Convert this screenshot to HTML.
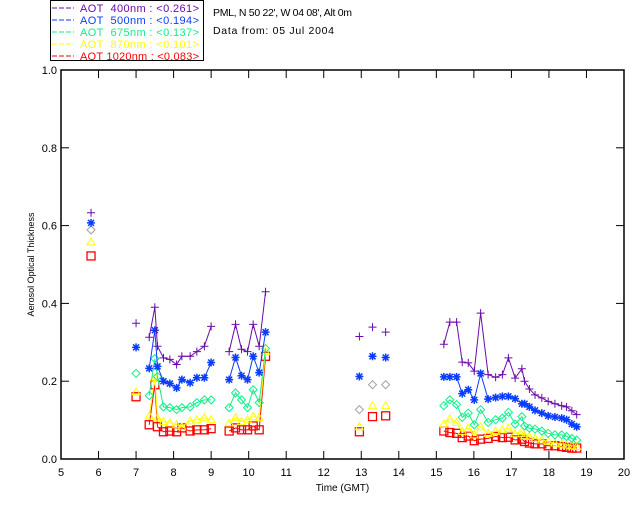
<!DOCTYPE html>
<html><head><meta charset="utf-8">
<style>
html,body{margin:0;padding:0;background:#fff;}
svg{display:block;font-family:"Liberation Sans",sans-serif;}
text{white-space:pre;}
</style></head>
<body>
<svg id="chart" width="640" height="512" xmlns="http://www.w3.org/2000/svg"></svg>
<script>
const xTicks=[5,6,7,8,9,10,11,12,13,14,15,16,17,18,19,20];
const yTicks=[0.0,0.2,0.4,0.6,0.8,1.0];
const wavelengths=["400nm","500nm","675nm","870nm","1020nm"];
const means=["0.261","0.194","0.137","0.101","0.083"];
const tIso1=[5.8];
const tIso2=[7.0];
const tB=[7.35,7.5,7.57,7.73,7.9,8.08,8.22,8.44,8.62,8.82,9.0];
const tC=[9.48,9.65,9.81,9.97,10.12,10.28,10.45];
const tIso3=[12.95,13.3,13.65];
const tD=[15.2,15.36,15.54,15.69,15.85,16.01,16.18,16.38,16.58,16.76,16.92,17.1,17.28,17.35,17.48,17.63,17.81,17.98,18.16,18.34,18.47,18.61,18.74];
const iso1=[[0.633],[0.607],[0.589],[0.558],[0.522]];
const iso2=[[0.349],[0.287],[0.22],[0.173],[0.16]];
const a400B=[0.313,0.39,0.29,0.26,0.256,0.243,0.264,0.264,0.276,0.29,0.341];
const a500B=[0.233,0.331,0.238,0.2,0.194,0.183,0.204,0.196,0.209,0.209,0.248];
const a675B=[0.163,0.258,0.212,0.134,0.132,0.127,0.132,0.134,0.145,0.152,0.152];
const a870B=[0.111,0.209,0.106,0.096,0.093,0.088,0.083,0.098,0.101,0.106,0.101];
const a1020B=[0.088,0.191,0.083,0.07,0.072,0.07,0.08,0.072,0.075,0.075,0.078];
const a400C=[0.276,0.346,0.282,0.276,0.346,0.29,0.43];
const a500C=[0.204,0.261,0.214,0.204,0.264,0.222,0.326];
const a675C=[0.132,0.17,0.152,0.132,0.178,0.145,0.284];
const a870C=[0.093,0.106,0.096,0.101,0.109,0.106,0.276];
const a1020C=[0.072,0.08,0.075,0.075,0.085,0.075,0.264];
const iso3=[[0.315,0.339,0.326],[0.212,0.264,0.261],[0.127,0.191,0.191],[0.083,0.137,0.137],[0.07,0.109,0.111]];
const a400D=[0.295,0.352,0.352,0.249,0.247,0.226,0.375,0.217,0.21,0.217,0.26,0.208,0.232,0.2,0.18,0.165,0.157,0.148,0.142,0.137,0.134,0.124,0.114];
const a500D=[0.211,0.211,0.211,0.168,0.178,0.152,0.22,0.154,0.158,0.161,0.161,0.155,0.142,0.142,0.134,0.125,0.118,0.111,0.108,0.105,0.101,0.09,0.083];
const a675D=[0.137,0.152,0.14,0.107,0.118,0.088,0.127,0.094,0.101,0.105,0.12,0.09,0.109,0.085,0.079,0.077,0.072,0.066,0.062,0.062,0.058,0.053,0.049];
const a870D=[0.09,0.103,0.094,0.071,0.079,0.062,0.083,0.066,0.071,0.075,0.079,0.065,0.071,0.059,0.058,0.053,0.049,0.045,0.041,0.039,0.036,0.034,0.032];
const a1020D=[0.072,0.068,0.066,0.055,0.059,0.047,0.051,0.053,0.058,0.055,0.056,0.049,0.051,0.045,0.041,0.039,0.039,0.034,0.034,0.032,0.03,0.028,0.028];

const colors=["#6a0aaa","#0a3cff","#10ee88","#ffff00","#ff0000"];
const markers=["plus","star","diamond","tri","square"];
const X0=61,X1=624,Y0=459,YT=70;
const xs=t=>X0+(t-5)/(20-5)*(X1-X0);
const ys=v=>Y0-v*(Y0-YT);
const svg=document.getElementById('chart');
const NS="http://www.w3.org/2000/svg";
function mk(tag,attrs,parent){const e=document.createElementNS(NS,tag);for(const k in attrs)e.setAttribute(k,attrs[k]);(parent||svg).appendChild(e);return e;}

const frame=mk('rect',{x:X0,y:YT,width:X1-X0,height:Y0-YT,fill:'none',stroke:'#000','stroke-width':1.5});


xTicks.forEach(t=>{
  const g=mk('g',{});
  
  
  mk('line',{x1:xs(t),x2:xs(t),y1:Y0,y2:Y0-8,stroke:'#000'},g);
  mk('line',{x1:xs(t),x2:xs(t),y1:YT,y2:YT+8,stroke:'#000'},g);
  const tx=mk('text',{x:xs(t),y:Y0+17,'font-size':11,'text-anchor':'middle'},g);tx.textContent=t;
});
yTicks.forEach(v=>{
  const g=mk('g',{});
  
  
  mk('line',{x1:X0,x2:X0+8,y1:ys(v),y2:ys(v),stroke:'#000'},g);
  mk('line',{x1:X1,x2:X1-8,y1:ys(v),y2:ys(v),stroke:'#000'},g);
  const tx=mk('text',{x:X0-4,y:ys(v)+4,'font-size':11,'text-anchor':'end'},g);tx.textContent=v.toFixed(1);
});
const xt=mk('text',{x:(X0+X1)/2,y:491,'font-size':10,'text-anchor':'middle'});xt.textContent='Time (GMT)';

const yt=mk('text',{x:34,y:(YT+Y0)/2,'font-size':9,'text-anchor':'middle',transform:`rotate(-90 34 ${(YT+Y0)/2})`});yt.textContent='Aerosol Optical Thickness';


function marker(kind,x,y,c,g){
  if(kind==='plus'){mk('path',{d:`M${x-4} ${y}H${x+4}M${x} ${y-4}V${y+4}`,stroke:c,fill:'none'},g);}
  else if(kind==='star'){mk('path',{d:`M${x-4} ${y}H${x+4}M${x} ${y-4}V${y+4}M${x-3} ${y-3}L${x+3} ${y+3}M${x-3} ${y+3}L${x+3} ${y-3}`,stroke:c,'stroke-width':1.5,fill:'none'},g);}
  else if(kind==='diamond'){mk('path',{d:`M${x} ${y-4}L${x+4} ${y}L${x} ${y+4}L${x-4} ${y}Z`,stroke:c,fill:'none'},g);}
  else if(kind==='tri'){mk('path',{d:`M${x} ${y-4}L${x+4} ${y+3}L${x-4} ${y+3}Z`,stroke:c,fill:'none'},g);}
  else {mk('rect',{x:x-4,y:y-4,width:8,height:8,stroke:c,fill:'none','stroke-width':1.3},g);}
}
const segB=[a400B,a500B,a675B,a870B,a1020B],segC=[a400C,a500C,a675C,a870C,a1020C],segD=[a400D,a500D,a675D,a870D,a1020D];
for(let i=4;i>=0;i--){
  const g=mk('g',{});
  
  
  [[tB,segB[i]],[tC,segC[i]],[tD,segD[i]]].forEach(([ts,vs])=>{
    mk('polyline',{points:ts.map((t,j)=>xs(t)+','+ys(vs[j])).join(' '),fill:'none',stroke:colors[i]},g);
    ts.forEach((t,j)=>marker(markers[i],xs(t),ys(vs[j]),colors[i],g));
  });
  const isoC=(i===2)?'#a0a0a0':colors[i];
  [[tIso1,iso1[i]],[tIso2,iso2[i]],[tIso3,iso3[i]]].forEach(([ts,vs],k)=>{
    ts.forEach((t,j)=>marker(markers[i],xs(t),ys(vs[j]),(k===1?colors[i]:isoC),g));
  });
}
const lg=mk('g',{});


mk('rect',{x:50.5,y:0.5,width:153,height:60,fill:'#fff',stroke:'#000'},lg);
wavelengths.forEach((w,i)=>{
  const e=mk('g',{},lg);
  
  
  const y=8+i*12;
  mk('line',{x1:52,x2:74,y1:y,y2:y,stroke:colors[i],'stroke-dasharray':'5,2'},e);
  const tx=mk('text',{x:80,y:y+4,'font-size':11,fill:colors[i],textLength:119,lengthAdjust:'spacing'},e);
  tx.textContent=`AOT ${w.padStart(6,' ')} : <${means[i]}>`;
});
const s1=mk('text',{x:213,y:16,'font-size':10.5,textLength:139,lengthAdjust:'spacing'});s1.textContent="PML, N 50 22', W 04 08', Alt 0m";

const s2=mk('text',{x:213,y:34,'font-size':10.5,textLength:121,lengthAdjust:'spacing'});s2.textContent="Data from: 05 Jul 2004";

</script>
</body></html>
